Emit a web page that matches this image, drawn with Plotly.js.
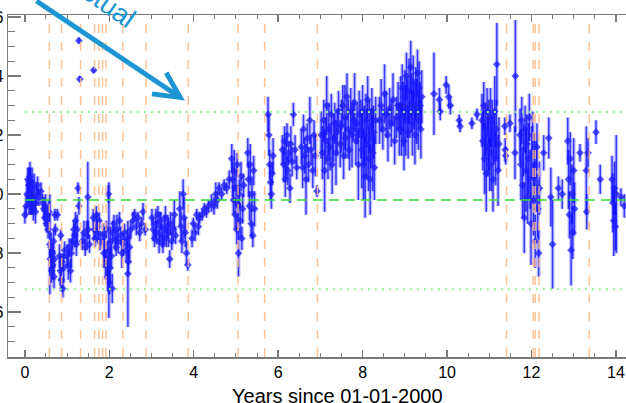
<!DOCTYPE html>
<html>
<head>
<meta charset="utf-8">
<script src="https://cdn.plot.ly/plotly-3.0.1.min.js"></script>
<style>html,body{margin:0;padding:0;background:#fff;}#chart{width:626px;height:403px;}</style>
</head>
<body>
<div id="chart"></div>
<script>
// Years since 01-01-2000
const years = [
0.00,0.03,0.05,0.07,0.09,0.10,0.12,0.13,0.15,0.17,0.18,0.20,0.22,0.24,0.25,0.28,0.30,0.33,0.38,0.42,0.45,0.47,0.49,0.51,0.53,0.55,0.57,
0.59,0.60,0.62,0.63,0.65,0.66,0.68,0.69,0.70,0.72,0.71,0.77,
0.82,0.84,0.86,0.88,0.90,0.92,0.94,0.85,
1.00,1.03,1.05,1.08,1.10,1.13,1.16,1.18,1.20,1.22,1.24,1.26,1.28,1.28,1.30,1.63,
1.36,1.40,1.43,1.47,1.50,1.49,1.53,
1.62,1.64,1.66,1.69,1.71,1.74,1.76,1.78,
1.85,1.87,1.89,1.91,1.93,1.95,1.96,1.98,1.99,2.00,2.02,2.03,2.05,2.07,2.08,
2.11,2.14,2.16,2.18,2.21,2.24,2.27,2.30,2.33,2.36,2.40,2.43,2.45,2.48,2.44,2.51,
2.56,2.60,2.64,2.68,2.72,2.76,2.80,2.85,
3.01,3.04,3.07,3.10,3.12,3.15,3.18,3.20,3.22,3.25,3.27,3.30,3.33,3.35,3.38,3.40,3.43,3.45,3.48,3.51,3.54,3.57,
3.67,3.70,3.72,3.75,3.77,3.80,3.83,3.86,
3.96,3.99,4.03,4.07,4.11,4.14,
4.20,4.25,4.30,4.35,4.42,
4.48,4.52,4.56,4.60,4.66,4.72,4.78,4.84,
4.90,4.92,4.94,4.96,4.98,5.00,5.02,5.03,5.05,5.06,5.08,5.10,5.12,5.14,5.16,5.18,
5.28,5.30,5.32,5.34,5.36,5.38,5.40,5.42,5.44,
5.76,5.78,5.80,5.82,5.84,5.86,5.88,
6.10,6.13,6.15,6.17,6.19,6.21,6.23,6.25,6.28,6.30,6.33,6.36,6.40,6.44,
6.55,6.58,6.60,6.63,6.66,6.69,6.72,6.75,6.78,6.82,6.85,6.88,6.92,
7.02,7.05,7.08,7.10,7.13,7.15,7.18,7.20,7.23,7.26,7.28,7.31,7.34,7.37,7.40,7.43,
7.47,7.50,7.53,7.55,7.58,7.60,7.63,7.66,7.69,7.72,7.75,7.78,7.81,7.84,7.87,7.90,7.92,
7.96,7.98,8.00,8.02,8.04,8.06,8.08,8.10,8.12,8.14,8.16,8.18,8.20,8.22,8.24,8.26,8.28,8.31,
8.40,8.44,8.48,8.52,8.56,8.60,8.64,8.68,8.72,8.76,8.80,8.84,8.87,
8.90,8.92,8.94,8.96,8.98,9.00,9.02,9.04,9.06,9.08,9.10,9.12,9.14,9.16,9.18,9.20,9.22,9.24,9.26,9.28,9.30,9.32,9.34,9.36,9.38,9.40,
9.69,9.82,9.84,9.98,10.04,10.08,10.29,10.31,10.59,10.71,
10.83,10.85,10.87,10.89,10.91,10.93,10.95,10.97,10.99,11.01,11.03,11.05,11.07,11.09,11.11,11.13,11.15,11.17,11.18,11.21,11.23,
11.37,11.38,11.39,11.49,11.61,11.62,
11.73,11.75,11.77,11.79,11.81,11.83,11.85,11.87,11.89,11.91,11.93,11.95,11.97,11.99,12.01,12.03,12.05,12.07,12.09,12.11,12.13,12.15,12.17,12.19,
12.29,12.41,12.46,12.50,12.64,12.73,
12.86,12.88,12.90,12.92,12.94,12.96,12.98,13.00,13.02,13.15,13.30,13.31,13.34,13.53,13.63,
13.91,13.93,13.95,13.97,13.99,14.01,14.12,14.20
];
const values = [
0.93,0.96,1.00,1.05,1.03,0.98,1.06,1.01,0.97,1.04,0.99,0.95,1.02,0.97,0.94,1.00,1.03,0.99,1.01,0.97,0.95,0.92,0.96,0.90,0.93,0.88,0.94,
0.83,0.78,0.82,0.74,0.80,0.76,0.84,0.72,0.78,0.88,0.93,0.93,
0.79,0.74,0.71,0.77,0.68,0.75,0.81,0.86,
0.79,0.76,0.82,0.74,0.80,0.84,0.88,0.86,0.91,0.83,0.88,1.02,0.96,1.52,1.39,1.42,
0.84,0.87,0.82,0.86,0.88,0.99,0.83,
0.92,0.88,0.85,0.93,0.89,0.87,0.91,0.84,
0.86,0.80,0.83,0.76,0.88,0.78,0.72,1.00,0.81,0.70,0.75,0.84,0.79,0.68,0.87,
0.90,0.85,0.82,0.88,0.84,0.91,0.86,0.80,0.83,0.87,0.81,0.85,0.77,0.82,0.73,0.88,
0.91,0.93,0.89,0.92,0.87,0.90,0.94,0.88,
0.92,0.88,0.85,0.90,0.87,0.93,0.84,0.89,0.91,0.86,0.83,0.88,0.92,0.85,0.89,0.87,0.78,0.90,0.84,0.88,0.93,0.86,
0.95,0.89,0.84,1.00,0.92,0.87,0.80,0.76,
0.85,0.90,0.87,0.93,0.89,0.92,
0.93,0.95,0.94,0.96,0.97,
0.96,1.00,0.98,1.02,1.00,1.03,1.02,1.05,
1.12,1.05,0.98,1.08,0.93,1.02,0.88,1.10,0.96,0.80,1.00,0.91,1.06,0.85,0.95,1.03,
1.14,1.05,0.96,1.10,0.90,1.00,0.86,1.08,0.95,
1.27,1.20,1.10,1.04,1.00,1.07,1.13,
1.15,1.10,1.18,1.05,1.12,1.20,1.08,1.14,1.02,1.17,1.11,1.27,1.15,1.09,
1.16,1.09,1.22,1.13,1.05,1.19,1.10,1.25,1.15,1.08,1.20,1.13,1.01,
1.20,1.14,1.25,1.08,1.18,1.30,1.12,1.22,1.16,1.27,1.10,1.19,1.24,1.14,1.21,1.28,
1.17,1.23,1.30,1.13,1.26,1.19,1.33,1.22,1.15,1.28,1.20,1.25,1.31,1.18,1.24,1.10,1.27,
1.22,1.15,1.28,1.10,1.20,1.06,1.25,1.17,1.32,1.12,1.23,1.05,1.19,1.28,1.14,1.21,1.09,1.25,
1.25,1.30,1.22,1.34,1.27,1.20,1.29,1.24,1.32,1.18,1.26,1.30,1.22,
1.30,1.22,1.36,1.27,1.18,1.33,1.25,1.40,1.29,1.21,1.35,1.27,1.43,1.31,1.24,1.38,1.30,1.20,1.34,1.28,1.41,1.25,1.36,1.30,1.22,1.33,
1.34,1.32,1.28,1.37,1.33,1.30,1.25,1.23,1.24,1.27,
1.25,1.18,1.30,1.12,1.22,1.07,1.28,1.16,1.20,1.10,1.26,1.14,1.24,1.05,1.19,1.28,1.12,1.22,1.44,1.08,1.17,
1.23,1.15,1.13,1.24,1.14,1.40,
1.20,1.10,1.25,1.03,1.15,0.92,1.22,1.08,1.17,0.99,1.12,1.26,1.05,0.90,1.14,1.20,0.98,1.10,0.84,1.06,1.16,0.95,0.80,1.02,
1.14,1.19,0.99,0.83,1.02,1.00,
1.18,1.05,0.93,1.12,0.81,1.00,0.87,1.08,0.95,1.14,1.08,0.94,1.14,1.21,1.05,
1.05,0.97,0.91,1.02,0.89,1.00,0.99,0.96
];
const errors = [
0.03,0.04,0.05,0.04,0.06,0.05,0.05,0.08,0.04,0.05,0.06,0.04,0.05,0.03,0.04,0.04,0.03,0.03,0.03,0.03,0.04,0.03,0.04,0.03,0.03,0.03,0.04,
0.17,0.04,0.05,0.04,0.03,0.05,0.04,0.04,0.03,0.02,0.02,0.02,
0.04,0.05,0.04,0.03,0.03,0.05,0.03,0.02,
0.04,0.05,0.03,0.04,0.05,0.03,0.03,0.04,0.03,0.04,0.05,0.02,0.03,0.01,0.01,0.01,
0.03,0.04,0.03,0.05,0.03,0.12,0.03,
0.03,0.04,0.03,0.03,0.05,0.04,0.03,0.03,
0.04,0.05,0.06,0.05,0.03,0.06,0.05,0.03,0.23,0.04,0.06,0.05,0.04,0.05,0.04,
0.03,0.04,0.03,0.05,0.04,0.03,0.03,0.05,0.04,0.03,0.04,0.03,0.04,0.05,0.18,0.03,
0.03,0.02,0.03,0.02,0.03,0.02,0.03,0.02,
0.03,0.04,0.03,0.05,0.04,0.03,0.04,0.05,0.03,0.04,0.03,0.05,0.04,0.03,0.04,0.05,0.03,0.04,0.03,0.04,0.05,0.03,
0.06,0.05,0.04,0.05,0.07,0.05,0.04,0.02,
0.03,0.02,0.03,0.02,0.03,0.02,
0.02,0.02,0.02,0.02,0.03,
0.03,0.04,0.03,0.02,0.02,0.02,0.02,0.03,
0.05,0.06,0.05,0.07,0.05,0.06,0.05,0.04,0.07,0.08,0.05,0.06,0.05,0.04,0.05,0.04,
0.05,0.06,0.05,0.07,0.05,0.06,0.04,0.05,0.06,
0.06,0.07,0.05,0.06,0.05,0.04,0.06,
0.05,0.06,0.05,0.06,0.07,0.04,0.05,0.04,0.05,0.06,0.05,0.04,0.05,0.04,
0.06,0.07,0.05,0.06,0.12,0.05,0.06,0.08,0.05,0.06,0.05,0.07,0.02,
0.08,0.09,0.07,0.14,0.08,0.10,0.07,0.09,0.08,0.07,0.10,0.08,0.07,0.11,0.08,0.07,
0.08,0.09,0.07,0.08,0.11,0.07,0.08,0.10,0.07,0.08,0.11,0.07,0.10,0.08,0.07,0.12,0.08,
0.10,0.13,0.09,0.12,0.10,0.14,0.09,0.12,0.08,0.11,0.09,0.12,0.10,0.08,0.13,0.09,0.11,0.08,
0.08,0.09,0.07,0.10,0.08,0.09,0.07,0.08,0.09,0.08,0.07,0.08,0.09,
0.10,0.09,0.08,0.11,0.10,0.09,0.12,0.08,0.10,0.09,0.11,0.08,0.09,0.10,0.11,0.09,0.08,0.10,0.09,0.11,0.08,0.10,0.09,0.08,0.10,0.09,
0.14,0.04,0.03,0.03,0.04,0.03,0.02,0.02,0.02,0.02,
0.09,0.10,0.08,0.12,0.09,0.13,0.08,0.10,0.12,0.09,0.10,0.13,0.08,0.11,0.09,0.12,0.09,0.10,0.14,0.12,0.09,
0.03,0.04,0.03,0.03,0.09,0.19,
0.09,0.12,0.08,0.11,0.09,0.12,0.08,0.14,0.10,0.09,0.12,0.08,0.10,0.14,0.09,0.08,0.12,0.10,0.09,0.12,0.08,0.10,0.08,0.09,
0.06,0.07,0.10,0.15,0.04,0.05,
0.08,0.10,0.08,0.09,0.12,0.10,0.09,0.11,0.09,0.03,0.15,0.06,0.05,0.04,0.05,
0.08,0.10,0.12,0.09,0.08,0.20,0.03,0.04
];
// Event dates (orange dashed lines), years since 2000
const eventYears = [0.58,0.87,1.32,1.65,1.75,1.84,1.92,2.32,2.87,3.87,5.05,5.68,6.93,11.41,12.04,12.09,12.18,13.37];
// Reference levels
const meanLevel = 0.98;
const upperLevel = 1.278;
const lowerLevel = 0.678;
const xTitle = 'Years since 01-01-2000';
const arrowLabel = 'Actual';

const xRange = [-0.40, 14.24];
const yRange = [0.448, 1.607];

const traces = [
  {x: years, y: values, type: 'scatter', mode: 'markers',
   marker: {size: 1, color: 'rgba(0,0,0,0)'},
   error_y: {type: 'data', array: errors, visible: true, color: 'rgba(90,90,255,0.35)', thickness: 4, width: 0},
   hoverinfo: 'skip', showlegend: false},
  {x: years, y: values, type: 'scatter', mode: 'markers',
   marker: {symbol: 'diamond', size: 6, color: 'rgba(30,30,255,0.75)', line: {width: 0}},
   error_y: {type: 'data', array: errors, visible: true, color: 'rgba(0,0,255,0.7)', thickness: 1.5, width: 0},
   showlegend: false}
];

const shapes = [];
eventYears.forEach(t => shapes.push({type: 'line', xref: 'x', yref: 'paper', x0: t, x1: t, y0: 0, y1: 1,
  line: {color: 'rgba(255,185,130,0.85)', width: 1.5, dash: 'dash'}, layer: 'above'}));
shapes.push({type: 'line', xref: 'x', yref: 'y', x0: 0, x1: xRange[1], y0: meanLevel, y1: meanLevel,
  line: {color: '#2ee02e', width: 1.5, dash: '10px,6px'}});
[upperLevel, lowerLevel].forEach(l => shapes.push({type: 'line', xref: 'x', yref: 'y', x0: 0, x1: xRange[1], y0: l, y1: l,
  line: {color: '#8ef08e', width: 2, dash: '2px,5px'}}));

const axisColor = '#7a7a7a';
const tickFont = {family: 'Liberation Sans, Arial, sans-serif', size: 16, color: '#000'};

const layout = {
  width: 626, height: 403,
  margin: {l: 8, r: 0, t: 15, b: 46, pad: 0},
  paper_bgcolor: '#fff', plot_bgcolor: '#fff',
  showlegend: false,
  xaxis: {range: xRange, tickmode: 'linear', tick0: 0, dtick: 2, ticks: 'inside', ticklen: 7, tickwidth: 1.5,
    tickcolor: axisColor, showline: true, linecolor: axisColor, linewidth: 1.5, mirror: 'ticks',
    showgrid: false, zeroline: false, tickfont: tickFont,
    minor: {dtick: 0.5, tick0: 0, ticks: 'inside', ticklen: 4, tickwidth: 1, tickcolor: axisColor, showgrid: false}},
  yaxis: {range: yRange, tickmode: 'linear', tick0: 0, dtick: 0.2, tickformat: '.1f', ticks: 'inside', ticklen: 13, tickwidth: 1.5,
    tickcolor: axisColor, showline: true, linecolor: axisColor, linewidth: 1.5, mirror: false,
    showgrid: false, zeroline: false, tickfont: tickFont,
    minor: {dtick: 0.05, tick0: 0, ticks: 'inside', ticklen: 7, tickwidth: 1, tickcolor: axisColor, showgrid: false}},
  shapes: shapes,
  annotations: [
    {xref: 'paper', yref: 'paper', x: 0.533, y: -0.114, xanchor: 'center', yanchor: 'middle', showarrow: false,
     text: xTitle, font: {family: 'Liberation Sans, Arial, sans-serif', size: 20, color: '#000'}},
    {xref: 'x', yref: 'y', x: 3.79, y: 1.317, ax: -150, ay: -107, axref: 'pixel', ayref: 'pixel', text: '',
     showarrow: true, arrowhead: 5, arrowwidth: 5, arrowsize: 1.0, arrowcolor: '#1b95d3', standoff: 0, startstandoff: 0},
    {xref: 'paper', yref: 'paper', x: 0.151, y: 1.043, xanchor: 'center', yanchor: 'middle', showarrow: false,
     textangle: 35, text: arrowLabel, font: {family: 'Liberation Sans, Arial, sans-serif', size: 27, color: '#1b95d3'}}
  ]
};

Plotly.newPlot('chart', traces, layout, {staticPlot: true, displayModeBar: false});
</script>
</body>
</html>
